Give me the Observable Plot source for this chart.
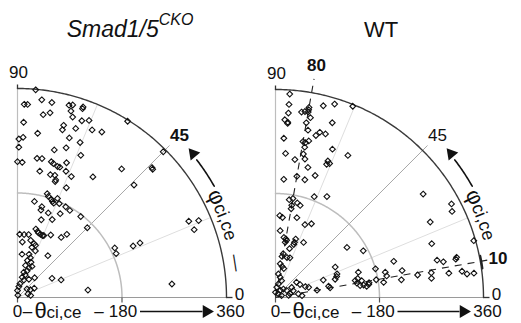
<!DOCTYPE html>
<html><head><meta charset="utf-8">
<script src="https://cdn.jsdelivr.net/npm/d3@7"></script>
<script src="https://cdn.jsdelivr.net/npm/@observablehq/plot@0.6"></script>
<style>
body{margin:0;background:#fff;}
#wrap{display:flex;width:521px;height:323px;overflow:hidden;}
svg text{font-family:"Liberation Sans",Arial,sans-serif;}
</style></head><body><div id="wrap"></div>
<script>
// ---- data: θci,ce (radius, 0–360) and φci,ce (angle, 0–90) ----
const ckoTheta = [359,333,333,343,341,343,345,334,347,344,318,323,325,324,329,358,302,307,299,308,316,320,285,276,273,288,259,271,262,268,242,243,234,233,241,239,236,236,247,233,221,219,220,213,228,245,285,279,207,355,322,321,323,339,326,218,231,267,188,186,210,186,182,179,176,174,168,184,177,177,162,156,155,162,175,177,140,147,170,122,119,117,116,115,109,109,110,122,128,138,101,96,97,90,95,86,89,75,77,72,66,65,57,55,59,49,45,41,36,45,37,32,68,81,24,19,12,4,22,26,33,23,122,19,116,289];
const ckoPhi   = [85,88,87,83,80,75,74,74,71,71,82,80,73,70,68,58,88,75,75,71,66,63,83,88,89.5,68,89.5,72,76,66,82,80,90,88,76,75,73,72,70,69,80,75,73,72,66,58,51,44,66,45,44,43.5,24,23,21,24,24,5,27,24,72,74,73,71,70,69,80,68,66,62,75,75,70,63,59,52,73,66,45,75,73,72,70,68,88,84,80,62,54,52,77,85,73,74,71,69,54,84,75,72,75,69,76,69,65,70,76,71,77,49,58,70,29,22,80,83,90,80,42,31,29,9,6,19,67,72];
const wtTheta  = [353,335,334,330,326,324,326,342,350,357,320,317,308,304,302,307,318,295,296,289,296,276,274,277,273,265,275,276,250,253,245,241,253,247,250,232,222,213,210,205,312,345,340,187,196,171,174,162,165,168,156,142,139,143,136,142,116,105,103,101,97,107,101,97,107,88,151,172,77,72,72,73,59,55,52,116,214,112,108,150,180,195,196,41,36,31,24,18,9,8,11,20,23,15,45,48,55,60,33,33,26,40,46,23,73,88,94,96,141,146,152,143,148,154,159,163,177,189,298,286,357,224,249,273,272,287,297,319,321,303,326,334,346,164,114,220];
const wtPhi    = [86,86,80,80,80,82,81,76,73,68,86,79,87,86,86,80,72,79,75,76,73,87,80,78,79,79,69,63,86,79,78,82,69,69,68,76,72,80,76,86,35,28,26,69,63,82,80,80,75,77,80,87,85,75,68,64,86,82,80,79,80,71,71,71,63,74,35,28,80,81,74,70,82,78,74,27,17,19,17,17,16,13,11,83,77,70,78,83,90,51,18,47,32,56,36,28,20,17,32,21,14,9,4,9,10,20,12,10,12,13,11,10,8,8,7,8,10,8,26,19,16,12,9,9,7,13,12,12,12.5,8,8,7,7,9,21,8];
const titles = ["Smad1/5", "WT"];
const titleSup = ["CKO", ""];
const spokeAngles = [22.5, 45, 67.5];
const thetaTickLabels = ["0", "180", "360"];
const wtDashedAngles = [80, 10];
const wtDashedLabels = ["80", "10"];

const rad = Math.PI / 180;
const pol = (t, p) => ({x: t * Math.cos(p * rad), y: t * Math.sin(p * rad)});

function makePanel(cfg) {
  const {W, H, ox, oy, R, theta, phi, idx} = cfg;
  const s = R / 360;
  const u = px => px / s;
  const arc = (T, p0, p1, step = 0.5) => d3.range(p0, p1 + 1e-9, step).map(p => pol(T, p));
  const pts = theta.map((t, i) => pol(t, phi[i]));
  const font = "Liberation Sans, Arial, sans-serif";
  const txt = (d, o) => Plot.text([d], {x: "x", y: "y", text: "t", fill: "#111", fontFamily: font, ...o});

  const marks = [
    Plot.link(spokeAngles.filter(a => a !== 45), {x1: 0, y1: 0, x2: a => pol(360, a).x, y2: a => pol(360, a).y, stroke: "#dedede", strokeWidth: 1}),
    Plot.link([45], {x1: 0, y1: 0, x2: a => pol(u(215), a).x, y2: a => pol(u(215), a).y, stroke: "#a8a8a8", strokeWidth: 1}),
    Plot.line(arc(180, 0, 90), {x: "x", y: "y", stroke: "#bdbdbd", strokeWidth: 1.5}),
    Plot.link([0], {x1: 0, y1: 0, x2: 0, y2: 360, stroke: "#bdbdbd", strokeWidth: 1.2}),
    Plot.link([0], {x1: 0, y1: 0, x2: 360, y2: 0, stroke: "#9a9a9a", strokeWidth: 1.2}),
    Plot.line(arc(360, 0, 90), {x: "x", y: "y", stroke: "#3a3a3a", strokeWidth: 1.4}),
    Plot.link([0, 180], {x1: d => d, y1: 0, x2: d => d, y2: u(-5), stroke: "#555", strokeWidth: 1.2}),
    Plot.link([0], {x1: 360, y1: 0, x2: 360 + u(6), y2: 0, stroke: "#333", strokeWidth: 1.3}),
    Plot.link([0], {x1: 0, y1: 360, x2: 0, y2: 360 + u(4), stroke: "#333", strokeWidth: 1.3}),
  ];
  if (idx === 1) {
    const ext = [222, 215];
    marks.push(Plot.link(wtDashedAngles, {x1: 0, y1: 0,
      x2: (a, i) => pol(u(ext[i]), a).x, y2: (a, i) => pol(u(ext[i]), a).y,
      stroke: "#222", strokeWidth: 1.1, strokeDasharray: "7,6"}));
    marks.push(Plot.line(arc(360 + u(1), 8, 11.5, 0.5), {x: "x", y: "y", stroke: "#222", strokeWidth: 2}));
  }
  marks.push(Plot.dot(pts, {x: "x", y: "y", symbol: "diamond2", r: 2.6, stroke: "#111", strokeWidth: 1.1, fill: "none"}));

  // φ arrow along arc
  marks.push(Plot.line(arc(u(226), 29.5, 37.5, 0.5), {x: "x", y: "y", stroke: "#111", strokeWidth: 1.6}));
  marks.push(Plot.dot([pol(u(227), 39.3)], {x: "x", y: "y", symbol: "triangle", r: 4.6, fill: "#111", stroke: "none", rotate: -39.3}));

  // bottom θ axis label
  const by = 14;
  marks.push(txt({x: 0, y: 0, t: thetaTickLabels[0]}, {fontSize: 17, dy: by}));
  marks.push(txt({x: 0, y: 0, t: "–"}, {fontSize: 17, dx: 10, dy: by}));
  marks.push(txt({x: 0, y: 0, t: "θ"}, {fontSize: 22, dx: 23, dy: by - 1}));
  marks.push(txt({x: 0, y: 0, t: "ci,ce"}, {fontSize: 17, dx: 29, dy: by + 1, textAnchor: "start"}));
  marks.push(txt({x: 180, y: 0, t: "–"}, {fontSize: 17, dx: -23, dy: by}));
  marks.push(txt({x: 180, y: 0, t: thetaTickLabels[1]}, {fontSize: 17, dx: 1, dy: by}));
  marks.push(txt({x: 360, y: 0, t: thetaTickLabels[2]}, {fontSize: 17, dx: 4, dy: by}));
  marks.push(Plot.link([0], {x1: 180 + u(18), y1: 0, x2: 360 - u(24), y2: 0, dy: by, stroke: "#111", strokeWidth: 1.4}));
  marks.push(Plot.dot([{x: 360 - u(20), y: 0}], {x: "x", y: "y", dy: by, symbol: "triangle", r: 4.8, fill: "#111", stroke: "none", rotate: 90}));

  // φ tick labels
  marks.push(txt({x: 0, y: 360, t: "90"}, {fontSize: 17, dx: 1, dy: -16}));
  marks.push(txt({x: 360, y: 0, t: "0"}, {fontSize: 17, dx: 13, dy: -3}));
  const p45 = pol(u(229), 45);
  marks.push(txt({x: p45.x, y: p45.y, t: "45"}, {fontSize: 17, fontWeight: idx === 0 ? 600 : 400}));
  if (idx === 1) {
    const lr = [236, 226];
    wtDashedAngles.forEach((a, i) => {
      const q = pol(u(lr[i]), a);
      marks.push(txt({x: q.x, y: q.y, t: wtDashedLabels[i]}, {fontSize: 17, fontWeight: 700}));
    });
  }

  const plot = Plot.plot({
    width: W, height: H, margin: 0,
    x: {domain: [-u(ox), u(W - ox)], range: [0, W], axis: null},
    y: {domain: [-u(H - oy), u(oy)], range: [H, 0], axis: null},
    style: {background: "white", overflow: "visible", fontFamily: font},
    marks
  });

  const svg = d3.select(plot);
  const tt = svg.append("text").attr("x", cfg.titleX).attr("y", 37).attr("text-anchor", "middle")
    .attr("fill", "#111").style("font-family", font);
  tt.append("tspan").text(titles[idx]).attr("font-size", idx === 0 ? 23 : 22)
    .attr("font-style", idx === 0 ? "italic" : "normal");
  if (titleSup[idx]) tt.append("tspan").text(titleSup[idx]).attr("font-size", 16)
    .attr("font-style", "italic").attr("dy", -12);

  // φ label along the arc
  const rb = 216, a0 = 32;
  const id = "phiPath" + idx;
  svg.append("defs").append("path").attr("id", id)
    .attr("d", `M${ox + rb * Math.cos(a0 * rad)},${oy - rb * Math.sin(a0 * rad)} A${rb},${rb} 0 0 1 ${ox + rb},${oy}`);
  const tp = svg.append("text").attr("fill", "#111").attr("text-anchor", "start").style("font-family", font)
    .append("textPath").attr("href", "#" + id).attr("startOffset", rb * 3.5 * rad).attr("text-anchor", "start");
  tp.append("tspan").text("φ").attr("font-size", 22);
  tp.append("tspan").text("ci,ce").attr("font-size", 18);
  if (idx === 0) tp.append("tspan").text("   —").attr("font-size", 17);
  return plot;
}

const wrap = document.getElementById("wrap");
wrap.appendChild(makePanel({W: 260, H: 323, ox: 17, oy: 297, R: 209, theta: ckoTheta, phi: ckoPhi, idx: 0, titleX: 130}));
wrap.appendChild(makePanel({W: 261, H: 323, ox: 15, oy: 297, R: 208, theta: wtTheta, phi: wtPhi, idx: 1, titleX: 121}));
</script></body></html>
